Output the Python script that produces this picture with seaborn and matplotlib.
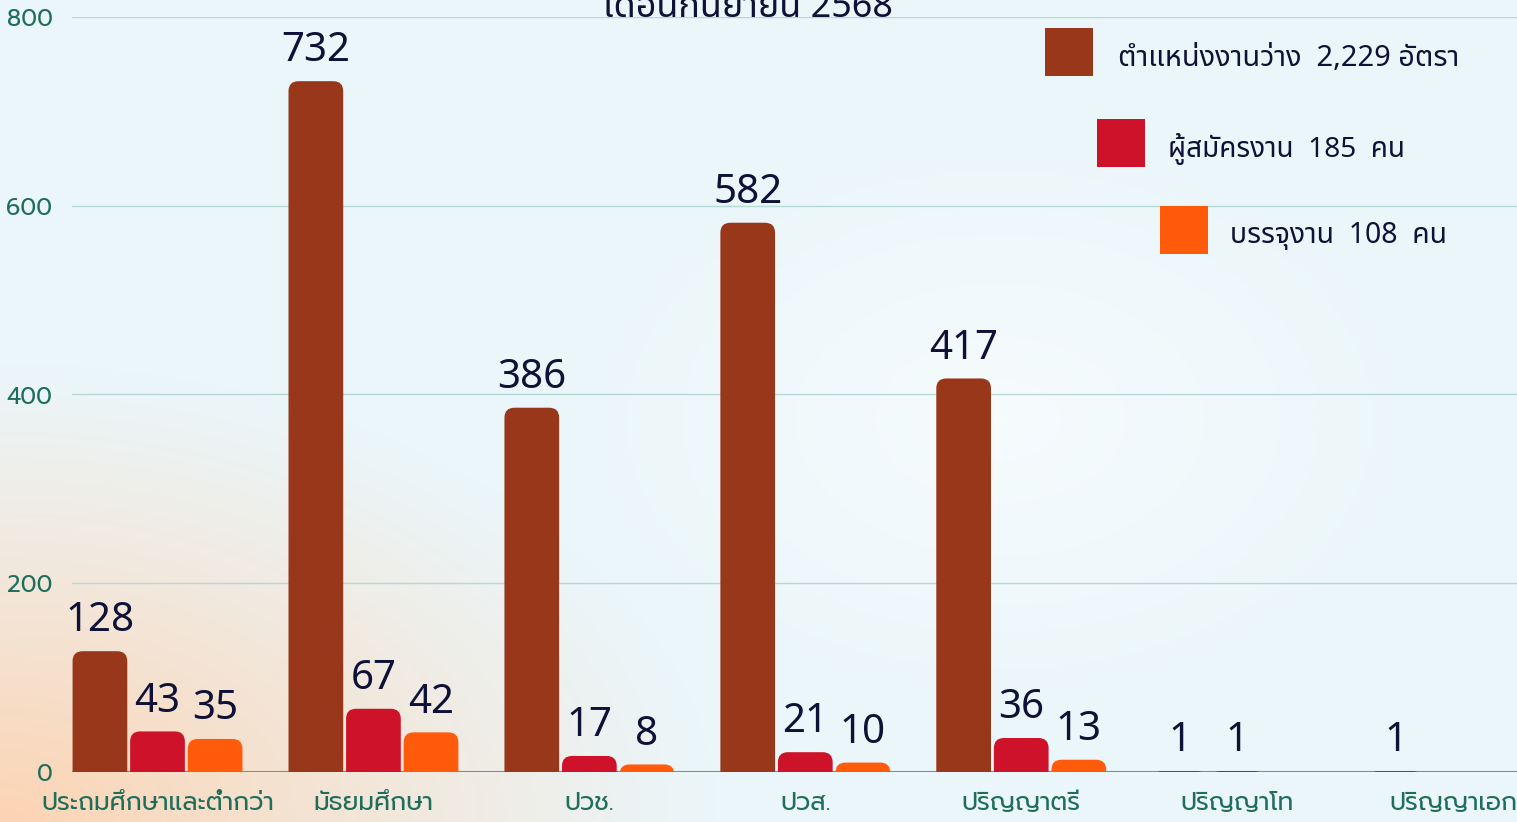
import matplotlib
matplotlib.use("Agg")
import numpy as np
import pandas as pd
import matplotlib.pyplot as plt
import seaborn as sns
from matplotlib.patches import FancyBboxPatch, Rectangle

# data
levels = ['ประถมศึกษาและต่ำกว่า', 'มัธยมศึกษา', 'ปวช.', 'ปวส.', 'ปริญญาตรี', 'ปริญญาโท', 'ปริญญาเอก']
vacancies = [128, 732, 386, 582, 417, 1, 1]
applicants = [43, 67, 17, 21, 36, 1, 0]
placed = [35, 42, 8, 10, 13, 0, 0]
series = ['ตำแหน่งงานว่าง', 'ผู้สมัครงาน', 'บรรจุงาน']
legend_text = ['ตำแหน่งงานว่าง  2,229 อัตรา', 'ผู้สมัครงาน  185  คน', 'บรรจุงาน  108  คน']
title = 'เดือนกันยายน 2568'
yticks = [0, 200, 400, 600, 800]

colors = ['#99371b', '#cd1229', '#ff5b0b']
navy = '#0e1236'
green = '#1f6e5c'
num_font = ['Noto Sans Thai', 'DejaVu Sans']
lab_font = ['Prompt', 'DejaVu Sans']

df = pd.DataFrame({'level': levels * 3,
                   'series': [s for s in series for _ in levels],
                   'value': vacancies + applicants + placed})

sns.set_theme(style='white')
plt.rcParams['font.family'] = lab_font

fig = plt.figure(figsize=(15.17, 8.22), dpi=100)

# soft background: pale blue with a peach glow in the lower left corner
bg = fig.add_axes([0, 0, 1, 1], zorder=-10)
yy, xx = np.mgrid[0:822, 0:1517]
base = np.array([0.92, 0.965, 0.98])
peach = np.array([0.99, 0.83, 0.70])
white = np.array([0.985, 0.995, 1.0])
d = np.sqrt((xx / 720.0) ** 2 + ((822 - yy) / 460.0) ** 2)
w_p = np.clip(1 - d, 0, 1) ** 1.1
d2 = np.sqrt(((xx - 1000) / 450.0) ** 2 + ((yy - 420) / 300.0) ** 2)
w_w = np.clip(1 - d2, 0, 1) * 0.7
img = base[None, None, :] * (1 - w_w[..., None]) + white[None, None, :] * w_w[..., None]
img = img * (1 - w_p[..., None]) + peach[None, None, :] * w_p[..., None]
bg.imshow(img, aspect='auto', interpolation='bilinear')
bg.axis('off')

ax = fig.add_axes([72 / 1517, 50 / 822, 1 - 72 / 1517, 755 / 822])
ax.patch.set_alpha(0)

sns.barplot(data=df, x='level', y='value', hue='series', hue_order=series,
            palette=colors, width=0.8, gap=0.05, legend=False, ax=ax,
            saturation=1, zorder=3)

ax.set_ylim(0, 800)
ax.set_xlim(-0.396, 6.296)

# round the top corners of every bar
fig.canvas.draw()
px_x = ax.transData.transform((1, 0))[0] - ax.transData.transform((0, 0))[0]
px_y = ax.transData.transform((0, 1))[1] - ax.transData.transform((0, 0))[1]
r_x = 10 / px_x
ext = 24 / px_y
for p in list(ax.patches):
    x0, w, h = p.get_x(), p.get_width(), p.get_height()
    if h > 0:
        rb = FancyBboxPatch((x0, -ext), w, h + ext,
                            boxstyle='round,pad=0,rounding_size=%f' % r_x,
                            mutation_aspect=px_x / px_y,
                            facecolor=p.get_facecolor(), edgecolor='none',
                            linewidth=0, zorder=3)
        ax.add_patch(rb)
        # value label above the bar
        ax.annotate('%d' % h, (x0 + w / 2, h), xytext=(0, 7), textcoords='offset points',
                    ha='center', va='bottom', fontsize=29, color=navy,
                    family=num_font)
    p.remove()

ax.set_yticks(yticks)
ax.grid(axis='y', color='#b7d9d6', lw=1)
ax.grid(axis='x', visible=False)
ax.set_axisbelow(True)
ax.axhline(0, color='#5d9d95', lw=1.5, zorder=2)
for s in ax.spines.values():
    s.set_visible(False)
ax.tick_params(axis='y', length=0, pad=14, labelsize=17, labelcolor=green)
ax.tick_params(axis='x', length=0, pad=14, labelsize=18, labelcolor=green)
ax.set_xlabel('')
ax.set_ylabel('')


def fit_width(t, target):
    # shrink a text so that it spans the width seen in the chart
    r = fig.canvas.get_renderer()
    wid = t.get_window_extent(r).width
    t.set_fontsize(t.get_fontsize() * target / wid)


# staggered legend in the top right
box = 48
pos = [(1045, 28, 1118, 342), (1097, 119, 1168, 237), (1160, 206, 1230, 217)]
for (bx, by, tx, tw), c, t in zip(pos, colors, legend_text):
    fig.add_artist(Rectangle((bx / 1517, 1 - (by + box) / 822), box / 1517, box / 822,
                             transform=fig.transFigure, facecolor=c, edgecolor='none'))
    txt = fig.text(tx / 1517, 1 - (by + box / 2 + 6) / 822, t, ha='left', va='center',
                   fontsize=27, color=navy, family=num_font)
    fit_width(txt, tw)

# title cut off by the top edge
tt = fig.text(748 / 1517, 1 - 17 / 822, title, ha='center', va='baseline',
              fontsize=34, color=navy, family=num_font)
fit_width(tt, 290)

fig.savefig('out.png', dpi=100)
